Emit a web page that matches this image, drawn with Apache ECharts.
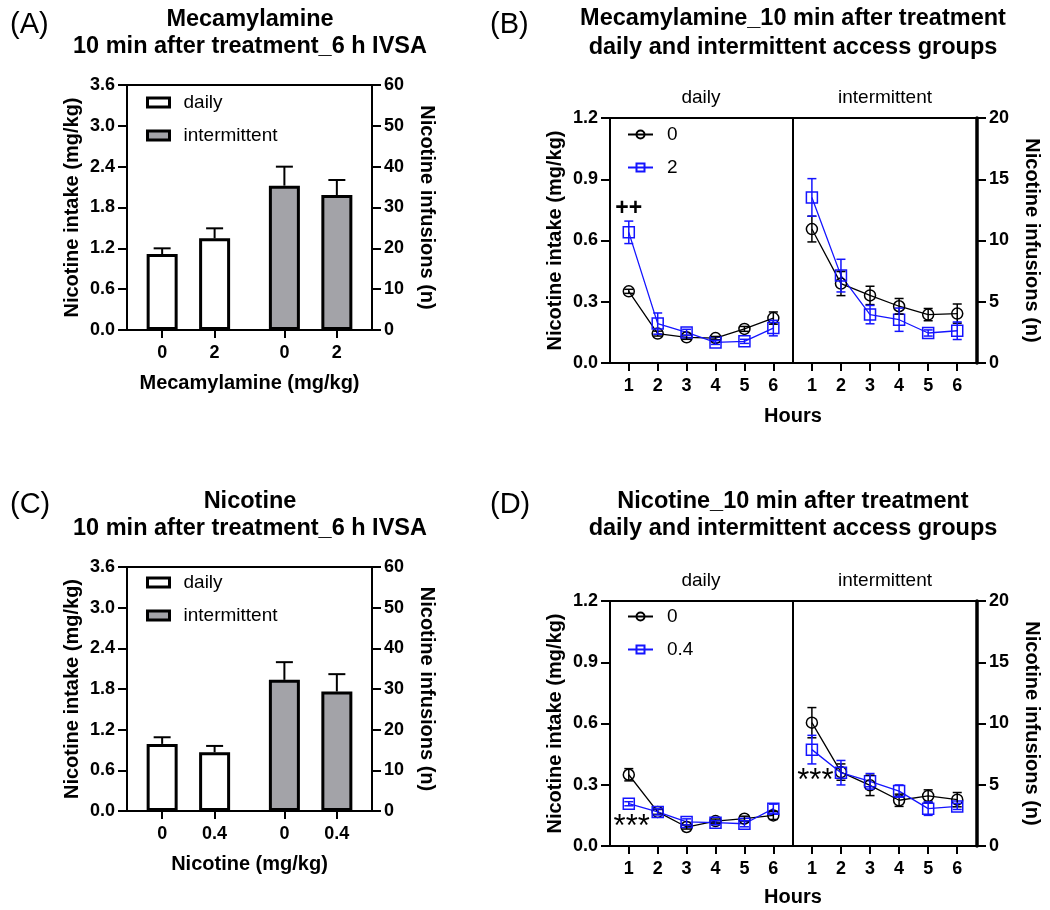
<!DOCTYPE html>
<html>
<head>
<meta charset="utf-8">
<title>Nicotine intake after treatment</title>
<script src="https://cdn.jsdelivr.net/npm/echarts@6/dist/echarts.min.js"></script>
<style>
  html, body { margin: 0; padding: 0; background: #fff; }
  #main { width: 1050px; height: 910px; }
</style>
</head>
<body>
<div id="main"></div>
<script>
// ---- data ----
const groups = ['daily', 'intermittent'];
const mecaDoses = ['0', '2'];
const nicDoses = ['0', '0.4'];

// bar panels, nicotine intake (mg/kg), mean and SEM
const mecaDailyMean = [1.117, 1.347];
const mecaDailySem = [0.083, 0.147];
const mecaIntMean = [2.121, 1.984];
const mecaIntSem = [0.279, 0.220];
const nicDailyMean = [0.990, 0.867];
const nicDailySem = [0.098, 0.093];
const nicIntMean = [1.935, 1.763];
const nicIntSem = [0.261, 0.256];

// hourly panels
const hours = [1, 2, 3, 4, 5, 6];
const bDaily0 = [0.351, 0.144, 0.126, 0.122, 0.167, 0.220];
const bDaily0Sem = [0.010, 0.012, 0.010, 0.008, 0.012, 0.030];
const bDaily2 = [0.640, 0.193, 0.150, 0.101, 0.106, 0.171];
const bDaily2Sem = [0.055, 0.052, 0.015, 0.010, 0.010, 0.038];
const bInt0 = [0.656, 0.389, 0.331, 0.278, 0.237, 0.242];
const bInt0Sem = [0.063, 0.059, 0.045, 0.038, 0.030, 0.047];
const bInt2 = [0.811, 0.428, 0.237, 0.212, 0.147, 0.158];
const bInt2Sem = [0.092, 0.080, 0.045, 0.057, 0.015, 0.043];

const dDaily0 = [0.349, 0.167, 0.093, 0.122, 0.134, 0.150];
const dDaily0Sem = [0.030, 0.012, 0.010, 0.010, 0.012, 0.020];
const dDaily04 = [0.207, 0.167, 0.118, 0.114, 0.109, 0.183];
const dDaily04Sem = [0.010, 0.015, 0.015, 0.010, 0.015, 0.022];
const dInt0 = [0.604, 0.362, 0.297, 0.224, 0.245, 0.227];
const dInt0Sem = [0.074, 0.040, 0.050, 0.030, 0.030, 0.035];
const dInt04 = [0.472, 0.359, 0.317, 0.269, 0.183, 0.194];
const dInt04Sem = [0.070, 0.060, 0.038, 0.030, 0.033, 0.015];

// significance marks: [text, hour, intake]
const bDailyMarks = [['++', 1, 0.754]];
const dDailyMarks = [['***', 1.1, 0.118]];
const dIntMarks = [['***', 1.12, 0.346]];

// ---- styling ----
const BLACK = '#000';
const BLUE = '#1414ff';
const GRAY = '#a3a3a8';
const FONT = "'Liberation Sans', Arial, Helvetica, sans-serif";

// bar slot on the x axis: doses side by side, a wider gap between groups
function slot(g, i) { return 1 + i + g * 2.33; }

function barXAxis(gridIndex, doses, name) {
  const pos = [], labels = [];
  groups.forEach((g, gi) => doses.forEach((d, di) => { pos.push(slot(gi, di)); labels.push(d); }));
  return {
    gridIndex, type: 'value', min: 0.33, max: 5,
    name, nameLocation: 'middle', nameGap: 43,
    nameTextStyle: { fontSize: 20, fontWeight: 'bold', color: BLACK },
    axisLine: { lineStyle: { color: BLACK, width: 2 } },
    axisTick: { customValues: pos, length: 8, lineStyle: { color: BLACK, width: 2 } },
    axisLabel: {
      customValues: pos, margin: 14, fontSize: 18, fontWeight: 'bold', color: BLACK,
      formatter: v => labels[pos.findIndex(p => Math.abs(p - v) < 1e-6)]
    },
    splitLine: { show: false }
  };
}

function hourXAxis(gridIndex) {
  return {
    gridIndex, type: 'value', min: 0.35, max: 6.68,
    axisLine: { lineStyle: { color: BLACK, width: 2 } },
    axisTick: { customValues: hours, length: 8, lineStyle: { color: BLACK, width: 2 } },
    axisLabel: { customValues: hours, margin: 14, fontSize: 18, fontWeight: 'bold', color: BLACK },
    splitLine: { show: false }
  };
}

function yAxis(gridIndex, position, max, interval, name, decimals, lineWidth) {
  return {
    gridIndex, type: 'value', position, min: 0, max, interval,
    name, nameLocation: 'middle', nameGap: 45,
    nameRotate: position === 'right' ? -90 : 90,
    nameTextStyle: { fontSize: 20, fontWeight: 'bold', color: BLACK },
    axisLine: { show: true, lineStyle: { color: BLACK, width: lineWidth || 2 } },
    axisTick: { show: true, length: 9, lineStyle: { color: BLACK, width: 2 } },
    axisLabel: {
      margin: 12, fontSize: 18, fontWeight: 'bold', color: BLACK,
      formatter: v => v.toFixed(decimals)
    },
    splitLine: { show: false }
  };
}

function hiddenY(gridIndex) {
  return { gridIndex, type: 'value', min: 0, max: 1.2, show: false };
}

function barSeries(name, xi, yi, g, means, fill) {
  return {
    type: 'bar', name, xAxisIndex: xi, yAxisIndex: yi,
    barWidth: 31, barGap: '-100%', z: 2,
    itemStyle: { color: fill, borderColor: BLACK, borderWidth: 3 },
    emphasis: { disabled: true },
    data: means.map((m, i) => [slot(g, i), m])
  };
}

function barErrSeries(xi, yi, g, means, sems) {
  return {
    type: 'custom', xAxisIndex: xi, yAxisIndex: yi, z: 3, silent: true,
    renderItem: (params, api) => {
      const x = api.value(0), y = api.value(1), e = api.value(2);
      const a = api.coord([x, y]), b = api.coord([x, y + e]);
      const st = { stroke: BLACK, lineWidth: 2 };
      return {
        type: 'group', children: [
          { type: 'line', shape: { x1: a[0], y1: a[1], x2: b[0], y2: b[1] }, style: st },
          { type: 'line', shape: { x1: b[0] - 8.5, y1: b[1], x2: b[0] + 8.5, y2: b[1] }, style: st }
        ]
      };
    },
    data: means.map((m, i) => [slot(g, i), m, sems[i]])
  };
}

function lineSeries(name, xi, yi, vals, color, symbol) {
  return {
    type: 'line', name, xAxisIndex: xi, yAxisIndex: yi,
    symbol, symbolSize: 11, z: 4,
    itemStyle: { color: 'rgba(0,0,0,0)', borderColor: color, borderWidth: 1.5 },
    lineStyle: { color, width: 1.3 },
    emphasis: { disabled: true },
    data: hours.map((h, i) => [h, vals[i]])
  };
}

function lineErrSeries(xi, yi, vals, sems, color) {
  return {
    type: 'custom', xAxisIndex: xi, yAxisIndex: yi, z: 5, silent: true,
    renderItem: (params, api) => {
      const x = api.value(0), y = api.value(1), e = api.value(2);
      const t = api.coord([x, y + e]), b = api.coord([x, y - e]);
      const st = { stroke: color, lineWidth: 1.5 };
      return {
        type: 'group', children: [
          { type: 'line', shape: { x1: t[0], y1: t[1], x2: b[0], y2: b[1] }, style: st },
          { type: 'line', shape: { x1: t[0] - 4.5, y1: t[1], x2: t[0] + 4.5, y2: t[1] }, style: st },
          { type: 'line', shape: { x1: b[0] - 4.5, y1: b[1], x2: b[0] + 4.5, y2: b[1] }, style: st }
        ]
      };
    },
    data: hours.map((h, i) => [h, vals[i], sems[i]])
  };
}

function markSeries(xi, yi, marks, size, dy, weight) {
  return {
    type: 'custom', xAxisIndex: xi, yAxisIndex: yi, z: 6, silent: true,
    renderItem: (params, api) => {
      const p = api.coord([api.value(1), api.value(2)]);
      return {
        type: 'text', x: p[0], y: p[1] + dy,
        style: { text: marks[params.dataIndex][0], fontSize: size, fontFamily: FONT,
          fontWeight: weight, fill: BLACK, align: 'center', verticalAlign: 'middle' }
      };
    },
    data: marks.map(m => [m[0], m[1], m[2]])
  };
}

function titleItem(text, left, top, size, bold, lineHeight) {
  return {
    text, left, top, padding: 0, textAlign: 'center',
    textStyle: { fontSize: size, fontWeight: bold ? 'bold' : 'normal', color: BLACK,
      fontFamily: FONT, lineHeight: lineHeight || size + 4 }
  };
}

function panelLabel(text, left, top) {
  return { text, left, top, padding: 0,
    textStyle: { fontSize: 29, fontWeight: 'normal', color: BLACK, fontFamily: FONT } };
}

function legendItem(top, left, names, iconW, iconH, isBar) {
  const lg = {
    orient: 'vertical', left, top, padding: 0, itemGap: 14,
    itemWidth: iconW, itemHeight: iconH, selectedMode: false,
    data: names,
    textStyle: { fontSize: 19, color: BLACK, fontFamily: FONT, padding: [0, 0, 0, 9] }
  };
  if (isBar) {
    lg.icon = 'rect';
    lg.itemStyle = { borderWidth: 3, borderColor: BLACK };
  }
  return lg;
}

const gridBox = { show: true, borderColor: BLACK, borderWidth: 2, containLabel: false };

const option = {
  animation: false,
  backgroundColor: '#fff',
  textStyle: { fontFamily: FONT },
  title: [
    panelLabel('(A)', 10, 10),
    panelLabel('(B)', 490, 10),
    panelLabel('(C)', 10, 490),
    panelLabel('(D)', 490, 490),
    titleItem('Mecamylamine\n10 min after treatment_6 h IVSA', 250, 6, 23.5, true, 27),
    titleItem('Mecamylamine_10 min after treatment\ndaily and intermittent access groups', 793, 4, 23.5, true, 29),
    titleItem('Nicotine\n10 min after treatment_6 h IVSA', 250, 488, 23.5, true, 27),
    titleItem('Nicotine_10 min after treatment\ndaily and intermittent access groups', 793, 488, 23.5, true, 27),
    titleItem('daily', 701, 87, 19, false, 21),
    titleItem('intermittent', 885, 87, 19, false, 21),
    titleItem('daily', 701, 570, 19, false, 21),
    titleItem('intermittent', 885, 570, 19, false, 21),
    titleItem('Hours', 793, 405, 20, true, 22),
    titleItem('Hours', 793, 886, 20, true, 22)
  ],
  legend: [
    legendItem(93, 146, groups, 22, 9, true),
    legendItem(125, 627, ['0', '2'], 25, 10, false),
    legendItem(573, 146, groups, 22, 9, true),
    legendItem(607, 627, ['0', '0.4'], 25, 10, false)
  ],
  grid: [
    Object.assign({ left: 127, top: 85, width: 245, height: 245 }, gridBox),
    Object.assign({ left: 610, top: 118, width: 183, height: 245 }, gridBox),
    Object.assign({ left: 793, top: 118, width: 184, height: 245 }, gridBox),
    Object.assign({ left: 127, top: 567, width: 245, height: 244 }, gridBox),
    Object.assign({ left: 610, top: 601, width: 183, height: 245 }, gridBox),
    Object.assign({ left: 793, top: 601, width: 184, height: 245 }, gridBox)
  ],
  xAxis: [
    barXAxis(0, mecaDoses, 'Mecamylamine (mg/kg)'),
    hourXAxis(1),
    hourXAxis(2),
    barXAxis(3, nicDoses, 'Nicotine (mg/kg)'),
    hourXAxis(4),
    hourXAxis(5)
  ],
  yAxis: [
    yAxis(0, 'left', 3.6, 0.6, 'Nicotine intake (mg/kg)', 1),
    yAxis(0, 'right', 60, 10, 'Nicotine infusions (n)', 0),
    yAxis(1, 'left', 1.2, 0.3, 'Nicotine intake (mg/kg)', 1),
    hiddenY(2),
    yAxis(2, 'right', 20, 5, 'Nicotine infusions (n)', 0, 3.5),
    yAxis(3, 'left', 3.6, 0.6, 'Nicotine intake (mg/kg)', 1),
    yAxis(3, 'right', 60, 10, 'Nicotine infusions (n)', 0),
    yAxis(4, 'left', 1.2, 0.3, 'Nicotine intake (mg/kg)', 1),
    hiddenY(5),
    yAxis(5, 'right', 20, 5, 'Nicotine infusions (n)', 0, 3.5)
  ],
  series: [
    // (A)
    barSeries('daily', 0, 0, 0, mecaDailyMean, '#fff'),
    barSeries('intermittent', 0, 0, 1, mecaIntMean, GRAY),
    barErrSeries(0, 0, 0, mecaDailyMean, mecaDailySem),
    barErrSeries(0, 0, 1, mecaIntMean, mecaIntSem),
    // (B)
    lineSeries('0', 1, 2, bDaily0, BLACK, 'circle'),
    lineSeries('2', 1, 2, bDaily2, BLUE, 'rect'),
    lineErrSeries(1, 2, bDaily0, bDaily0Sem, BLACK),
    lineErrSeries(1, 2, bDaily2, bDaily2Sem, BLUE),
    lineSeries('0', 2, 3, bInt0, BLACK, 'circle'),
    lineSeries('2', 2, 3, bInt2, BLUE, 'rect'),
    lineErrSeries(2, 3, bInt0, bInt0Sem, BLACK),
    lineErrSeries(2, 3, bInt2, bInt2Sem, BLUE),
    markSeries(1, 2, bDailyMarks, 23, 0, 'bold'),
    // (C)
    barSeries('daily', 3, 5, 0, nicDailyMean, '#fff'),
    barSeries('intermittent', 3, 5, 1, nicIntMean, GRAY),
    barErrSeries(3, 5, 0, nicDailyMean, nicDailySem),
    barErrSeries(3, 5, 1, nicIntMean, nicIntSem),
    // (D)
    lineSeries('0', 4, 7, dDaily0, BLACK, 'circle'),
    lineSeries('0.4', 4, 7, dDaily04, BLUE, 'rect'),
    lineErrSeries(4, 7, dDaily0, dDaily0Sem, BLACK),
    lineErrSeries(4, 7, dDaily04, dDaily04Sem, BLUE),
    lineSeries('0', 5, 8, dInt0, BLACK, 'circle'),
    lineSeries('0.4', 5, 8, dInt04, BLUE, 'rect'),
    lineErrSeries(5, 8, dInt0, dInt0Sem, BLACK),
    lineErrSeries(5, 8, dInt04, dInt04Sem, BLUE),
    markSeries(4, 7, dDailyMarks, 31, 6, 'normal'),
    markSeries(5, 8, dIntMarks, 31, 6, 'normal')
  ]
};

const chart = echarts.init(document.getElementById('main'));
chart.setOption(option);
</script>
</body>
</html>
